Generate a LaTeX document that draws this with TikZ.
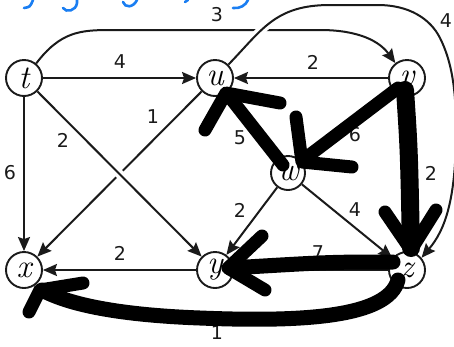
\documentclass[tikz,border=0pt]{standalone}
\usepackage{fontspec}
\newfontfamily\numfont{DejaVu Sans}
\usepackage{xcolor}
\definecolor{tinta}{HTML}{1A1A1A}
\definecolor{azulMano}{HTML}{1A7EF2}
\usetikzlibrary{arrows.meta}

\begin{document}
\begin{tikzpicture}[x=1pt, y=1pt,
    every node/.style={font=\fontsize{27}{30}\selectfont},
    vertice/.style={circle, draw=tinta, line width=1.9pt, fill=white,
      minimum size=36pt, inner sep=0pt, font=\fontsize{33}{34}\selectfont\itshape},
    arista/.style={draw=tinta, line width=2pt,
      -{Stealth[length=14pt,width=12pt,inset=2pt]}},
    peso/.style={font=\numfont\fontsize{19}{22}\selectfont, text=tinta},
    cruce/.style={preaction={draw, white, line width=9pt, -,
      shorten <=6pt, shorten >=14pt}},
    trazo/.style={black, line width=13pt, line cap=round, line join=round}]

  \useasboundingbox (0,0) rectangle (454,-346);

  % ── Vértices ──────────────────────────────────────────────
  \node[vertice] (t) at (24,-78)   {t};
  \node[vertice] (u) at (215,-78)  {u};
  \node[vertice] (v) at (407,-78)  {v};
  \node[vertice, minimum size=34pt] (w) at (288,-173) {w};
  \node[vertice] (x) at (24,-270)  {x};
  \node[vertice] (y) at (215,-270) {y};
  \node[vertice] (z) at (407,-270) {z};

  % ── Aristas rectas ────────────────────────────────────────
  \draw[arista] (t) -- (u);
  \draw[arista] (v) -- (u);
  \draw[arista] (t) -- (x);
  \draw[arista] (u) -- (x);
  \draw[arista, cruce] (t) -- (y);
  \draw[arista] (w) -- (u);
  \draw[arista] (v) -- (w);
  \draw[arista] (v) -- (z);
  \draw[arista] (w) -- (y);
  \draw[arista] (w) -- (z);
  \draw[arista] (y) -- (x);
  \draw[arista] (z) -- (y);

  % ── Aristas curvas ────────────────────────────────────────
  \draw[arista] (t.50) .. controls (60,-32) and (80,-30) .. (110,-30)
    -- (320,-30) .. controls (360,-30) and (380,-42) .. (v.128);
  \draw[arista, cruce] (u.45) .. controls (262,-30) and (275,-5) .. (330,-5)
    -- (378,-5) .. controls (408,-5) and (430,-18) .. (440,-38)
    .. controls (452,-62) and (456,-90) .. (456,-130)
    .. controls (456,-200) and (445,-230) .. (z.40);
  \draw[arista] (z.250) .. controls (388,-318) and (300,-322) .. (200,-318)
    .. controls (120,-315) and (70,-305) .. (x.300);

  % ── Pesos ─────────────────────────────────────────────────
  \node[peso] (p-tv) at (217,-15)  {3};
  \node[peso] (p-tu) at (120,-62)  {4};
  \node[peso] (p-vu) at (313,-62)  {2};
  \node[peso] (p-uz) at (446,-21)  {4};
  \node[peso] (p-ux) at (153,-117) {1};
  \node[peso] (p-ty) at (63,-140)  {2};
  \node[peso] (p-tx) at (10,-173)  {6};
  \node[peso] (p-wu) at (240,-138) {5};
  \node[peso] (p-vw) at (355,-135) {6};
  \node[peso] (p-vz) at (431,-173) {2};
  \node[peso] (p-wy) at (240,-210) {2};
  \node[peso] (p-wz) at (355,-210) {4};
  \node[peso] (p-yx) at (120,-253) {2};
  \node[peso] (p-zy) at (318,-253) {7};
  \node[peso] (p-zx) at (217,-333) {1};

  % ── Trazos a mano (negro) ─────────────────────────────────
  \draw[trazo] (283,-165) -- (228,-95);
  \draw[trazo] (205,-130) -- (226,-93) -- (280,-103);
  \draw[trazo] (398,-88) -- (303,-160);
  \draw[trazo] (296,-117) -- (302,-162) -- (352,-167);
  \draw[trazo, line width=18pt] (405,-90) .. controls (409,-150) .. (411,-248);
  \draw[trazo] (385,-212) -- (411,-250) -- (436,-210);
  \draw[trazo, line width=15pt] (393,-262) .. controls (330,-262) .. (230,-268);
  \draw[trazo] (262,-236) -- (228,-268) -- (265,-290);
  \draw[trazo, line width=15pt] (398,-280) .. controls (388,-318) and (300,-322) .. (200,-318)
    .. controls (120,-315) and (70,-305) .. (42,-290);
  \draw[trazo] (83,-283) -- (40,-290) -- (29,-312);

  % ── Trazos a mano (azul, cortados) ────────────────────────
  \begin{scope}[azulMano, line width=2.6pt, line cap=round]
    \draw (24,-8) .. controls (30,-7) .. (33,0);
    \draw (63,-8) .. controls (66,-13) and (76,-11) .. (77,-3) -- (77,0);
    \draw (123,-2) .. controls (125,-8) and (133,-8) .. (137,0);
    \draw (185,-2) -- (188,0);
    \draw (233,-8) .. controls (240,-9) and (246,-5) .. (248,0);
  \end{scope}

\end{tikzpicture}
\end{document}
